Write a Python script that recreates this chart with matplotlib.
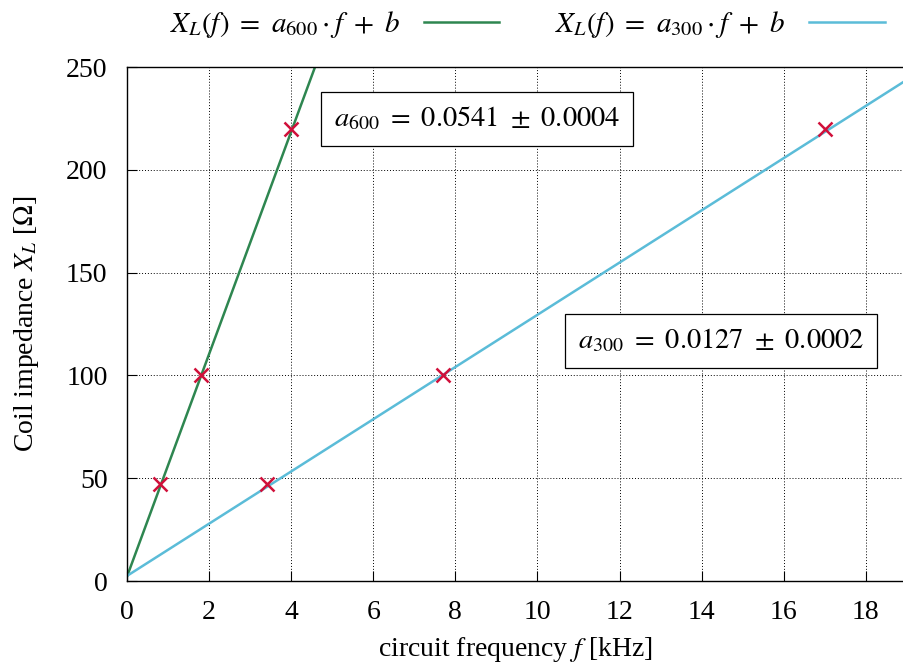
import matplotlib
matplotlib.use('Agg')
import matplotlib.pyplot as plt
import numpy as np

plt.rcParams['font.family'] = ['Liberation Serif', 'DejaVu Serif']
plt.rcParams['mathtext.fontset'] = 'stix'

# measured points (frequency in kHz, impedance in Ohm)
f_600 = [0.8, 1.8, 4.0]
x_600 = [47, 100, 220]
f_300 = [3.4, 7.7, 17.0]
x_300 = [47, 100, 220]

# fit parameters (slope per Hz, offset in Ohm)
a_600, b_600 = 0.0541, 2.2
a_300, b_300 = 0.0127, 2.5

xticks = [0, 2, 4, 6, 8, 10, 12, 14, 16, 18]
yticks = [0, 50, 100, 150, 200, 250]

green = '#2e8650'
blue = '#5bbcd8'
red = '#d0103a'

fig = plt.figure(figsize=(9.04, 6.69), dpi=100)
ax = fig.add_axes([0.1405, 0.1315, 0.8595, 0.7683])

f = np.linspace(0, 19, 200)
ax.plot(f, a_600 * 1000 * f + b_600, color=green, lw=1.8,
        label=r'$X_L(f)\ =\ a_{600}\cdot f\ +\ b$')
ax.plot(f, a_300 * 1000 * f + b_300, color=blue, lw=1.8,
        label=r'$X_L(f)\ =\ a_{300}\cdot f\ +\ b$')
ax.plot(f_600, x_600, 'x', color=red, ms=10, mew=1.8, zorder=5)
ax.plot(f_300, x_300, 'x', color=red, ms=10, mew=1.8, zorder=5)

ax.set_xlim(0, 18.93)
ax.set_ylim(0, 250)
ax.set_xticks(xticks)
ax.set_yticks(yticks)
ax.tick_params(direction='in', labelsize=20, length=7)
ax.tick_params(axis='x', pad=14)
ax.tick_params(axis='y', pad=14)
ax.grid(True, color='black', ls=(0, (1, 2)), lw=0.7)
ax.spines['right'].set_visible(False)
for s in ax.spines.values():
    s.set_linewidth(1.0)

ax.set_xlabel(r'circuit frequency $f$ [kHz]', fontsize=20, labelpad=7)
ax.set_ylabel(r'Coil impedance $X_L$ [$\Omega$]', fontsize=20, labelpad=18)

box = dict(boxstyle='square,pad=0.45', fc='white', ec='black', lw=0.9)
ax.text(8.53, 224.7, r'$a_{600}\ =\ 0.0541\ \pm\ 0.0004$', fontsize=20.5,
        ha='center', va='center', bbox=box)
ax.text(14.47, 116.7, r'$a_{300}\ =\ 0.0127\ \pm\ 0.0002$', fontsize=20.5,
        ha='center', va='center', bbox=box)

ax.legend(loc='lower center', bbox_to_anchor=(0.515, 1.03), ncol=2,
          frameon=False, markerfirst=False, fontsize=21,
          handlelength=2.6, columnspacing=1.9, borderaxespad=0.0)

fig.savefig('out.png', dpi=100)
